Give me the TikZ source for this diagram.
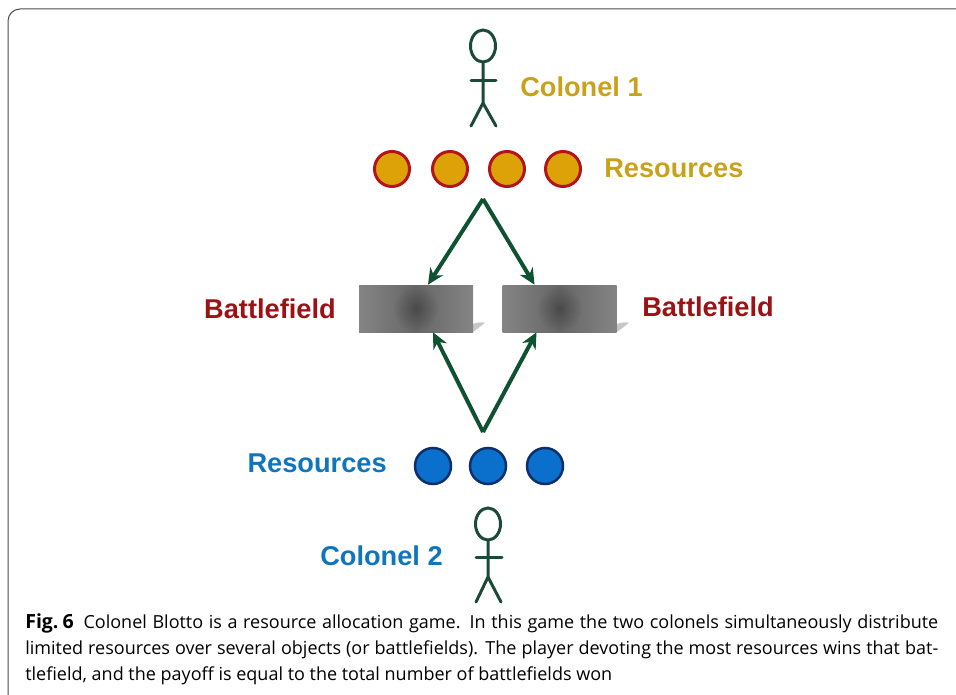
\documentclass[tikz,border=0pt]{standalone}
\usepackage{fontspec}
\setmainfont{Liberation Sans}
\newfontfamily\capfont{Open Sans}
\usetikzlibrary{arrows.meta, shapes.geometric, fadings}

\definecolor{colgold}{HTML}{C9A21C}
\definecolor{colblue}{HTML}{0F75BD}
\definecolor{colred}{HTML}{9C1214}
\definecolor{stickgreen}{HTML}{1C4A38}
\definecolor{arrowgreen}{HTML}{0F5232}
\definecolor{goldfill}{HTML}{DDA208}
\definecolor{goldline}{HTML}{B3141A}
\definecolor{bluefill}{HTML}{0B70CC}
\definecolor{blueline}{HTML}{0C2F6E}

\tikzfading[name=spotfade, inner color=transparent!0, outer color=transparent!100]

\begin{document}
\begin{tikzpicture}[
            x = 1pt, y = -1pt,
            > = {Stealth[length=16pt, width=15pt]}, % arrow head style
            semithick % line style
        ]

        \tikzstyle{label}=[font=\fontsize{27.2}{30}\selectfont\bfseries, inner sep=0pt]
        \tikzstyle{head}=[ellipse, draw=stickgreen, line width=3pt, minimum width=25pt, minimum height=32pt, inner sep=0pt]
        \tikzstyle{stick}=[draw=stickgreen, line width=3pt, line cap=round]
        \tikzstyle{golddot}=[circle, draw=goldline, fill=goldfill, line width=3pt, minimum size=35pt, inner sep=0pt]
        \tikzstyle{bluedot}=[circle, draw=blueline, fill=bluefill, line width=2.5pt, minimum size=36pt, inner sep=0pt]
        \tikzstyle{field}=[rectangle, minimum width=114pt, minimum height=47pt, inner sep=0pt, left color=black!48, right color=black!48, middle color=black!60]
        \tikzstyle{spot}=[black, opacity=0.28, path fading=spotfade]
        \tikzstyle{move}=[->, draw=arrowgreen, line width=4pt]

        \useasboundingbox (0,0) rectangle (956,695);

        % frame
        \draw[black!70, line width=1pt, rounded corners=12pt] (8,695) -- (8,9) -- (956,9);

        % colonel 1
        \node[head] (head1) at (483,46) {};
        \coordinate (hip1) at (483,103);
        \coordinate (armla) at (471,81);
        \coordinate (armra) at (496,81);
        \coordinate (footla) at (471,126);
        \coordinate (footra) at (496,126);
        \draw[stick] (head1.south) -- (hip1) -- (footla);
        \draw[stick] (hip1) -- (footra);
        \draw[stick] (armla) -- (armra);
        \node[label, text=colgold, anchor=west] (name1) at (520,87) {Colonel 1};

        % resources 1
        \foreach \i/\x in {1/392, 2/450, 3/507, 4/563}
            \node[golddot] (gold\i) at (\x,169) {};
        \node[label, text=colgold, anchor=west] (res1) at (604,168) {Resources};

        % battlefields
        \fill[black!22] (473,324) .. controls (478,322) and (482,322) .. (485,323) -- (473,332) -- cycle;
        \fill[black!22] (617,324) .. controls (622,322) and (626,322) .. (629,323) -- (617,332) -- cycle;
        \node[field] (fieldl) at (416,308.5) {};
        \node[field] (fieldr) at (559.5,308.5) {};
        \fill[spot] (fieldl) circle (23pt);
        \fill[spot] (fieldr) circle (23pt);
        \node[label, text=colred, anchor=east] (namel) at (336,309) {Battlefield};
        \node[label, text=colred, anchor=west] (namer) at (642,307) {Battlefield};

        % arrows
        \coordinate (tiptop) at (483,199);
        \coordinate (tipbot) at (483,432);
        \draw[move] (tiptop) -- ([xshift=12pt]fieldl.north);
        \draw[move] (tiptop) -- ([xshift=-25pt]fieldr.north);
        \draw[move] (tipbot) -- ([xshift=17pt]fieldl.south);
        \draw[move] (tipbot) -- ([xshift=-23pt]fieldr.south);

        % resources 2
        \foreach \i/\x in {1/433, 2/488, 3/545}
            \node[bluedot] (blue\i) at (\x,466) {};
        \node[label, text=colblue, anchor=east] (res2) at (387,463) {Resources};

        % colonel 2
        \node[head] (head2) at (488,524) {};
        \coordinate (hip2) at (488,577);
        \coordinate (armlb) at (476,557);
        \coordinate (armrb) at (502,557);
        \coordinate (footlb) at (476,602);
        \coordinate (footrb) at (501,602);
        \draw[stick] (head2.south) -- (hip2) -- (footlb);
        \draw[stick] (hip2) -- (footrb);
        \draw[stick] (armlb) -- (armrb);
        \node[label, text=colblue, anchor=east] (name2) at (443,556) {Colonel 2};

        % caption
        \node[anchor=north west, inner sep=0pt, align=left, font=\capfont\fontsize{18}{26}\selectfont] (caption) at (25,613)
            {\hbox to 913pt{{\fontsize{19.5}{26}\selectfont\textbf{Fig.\kern 4pt6}}\hspace{0.55em}Colonel Blotto is a resource allocation game. In this game the two colonels simultaneously distribute}\\
            \hbox to 913pt{limited resources over several objects (or battlefields). The player devoting the most resources wins that bat-}\\
            tlefield, and the payoff is equal to the total number of battlefields won};

  \end{tikzpicture}
\end{document}
